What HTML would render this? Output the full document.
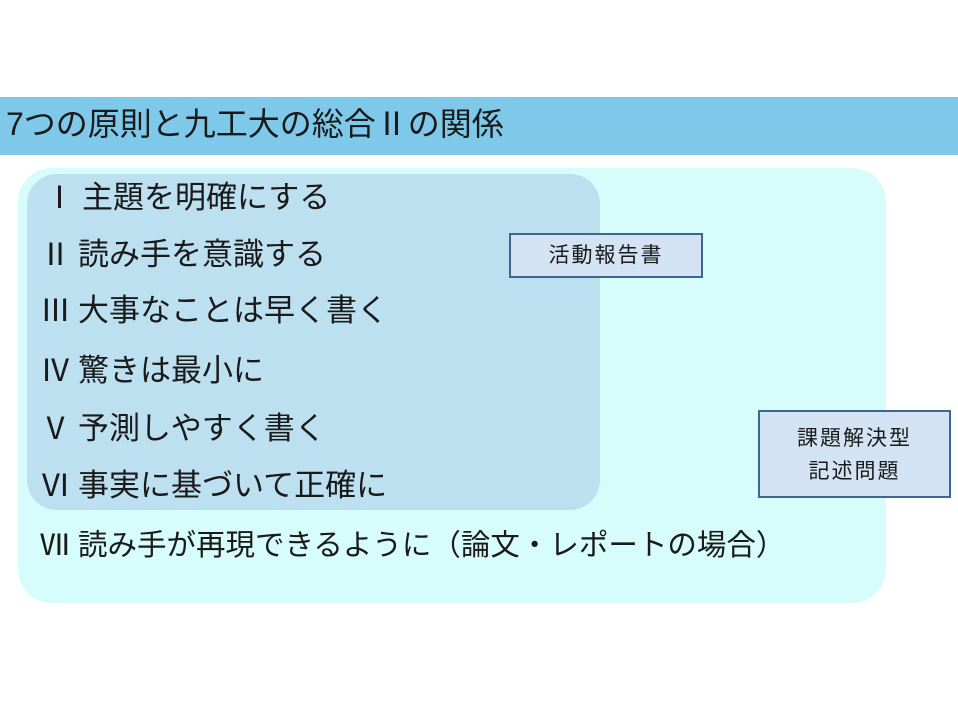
<!DOCTYPE html>
<html><head><meta charset="utf-8"><style>
body{margin:0;width:958px;height:718px;background:#fff;position:relative;overflow:hidden;font-family:"Liberation Sans","Noto Sans CJK JP",sans-serif;color:#1a1a1a}
.a{position:absolute}
.hdr{left:0;top:97px;width:958px;height:58px;background:#7ec8e9}
.hdr span{position:absolute;left:6px;top:7px;font-size:32px;line-height:40px}
.outer{left:18px;top:168px;width:868px;height:435px;background:#d6fcfc;border-radius:34px}
.inner{left:27px;top:174px;width:573px;height:336px;background:#bde0f1;border-radius:30px}
.ln{position:absolute;font-size:31px;line-height:36px;white-space:nowrap}
.ln b{font-weight:normal;display:inline-block;width:38px}
.box{position:absolute;background:#d3e3f3;border:2px solid #3d6691;box-sizing:border-box;text-align:center;font-size:21px;letter-spacing:2px}
</style></head><body>
<div class="a hdr"><span>7つの原則と九工大の総合Ⅱの関係</span></div>
<div class="a outer"></div>
<div class="a inner"></div>
<div class="ln" style="left:44px;top:180px"><b>Ⅰ</b>主題を明確にする</div>
<div class="ln" style="left:40px;top:237px"><b>Ⅱ</b>読み手を意識する</div>
<div class="ln" style="left:40px;top:293px"><b>Ⅲ</b>大事なことは早く書く</div>
<div class="ln" style="left:40px;top:353px"><b>Ⅳ</b>驚きは最小に</div>
<div class="ln" style="left:40px;top:411px"><b>Ⅴ</b>予測しやすく書く</div>
<div class="ln" style="left:40px;top:468px"><b>Ⅵ</b>事実に基づいて正確に</div>
<div class="ln" style="left:40px;top:528px;font-size:29.5px"><b>Ⅶ</b>読み手が再現できるように（論文・レポートの場合）</div>
<div class="box" style="left:509px;top:233px;width:194px;height:45px;line-height:41px">活動報告書</div>
<div class="box" style="left:758px;top:410px;width:193px;height:88px;padding-top:10px;line-height:33px">課題解決型<br>記述問題</div>
</body></html>
